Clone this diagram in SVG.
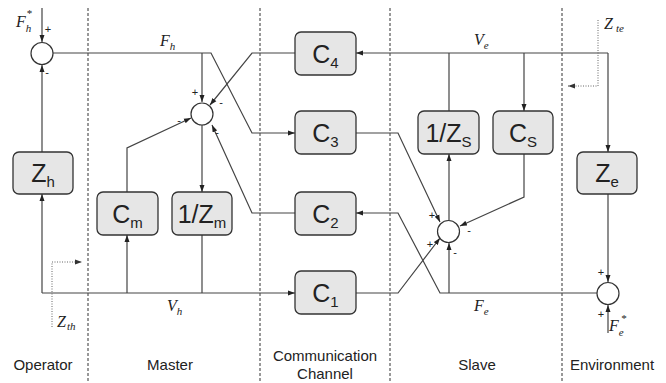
<svg xmlns="http://www.w3.org/2000/svg" width="666" height="383" viewBox="0 0 666 383">
<style>
.box{fill:#e6e6e6;stroke:#333;stroke-width:1.3}
.bt{font-family:"Liberation Sans",Arial,sans-serif;font-size:25px;fill:#222;text-anchor:middle}
.sub{font-size:15px}
.ln{fill:none;stroke:#444;stroke-width:1.2}
.dot{fill:none;stroke:#666;stroke-width:1;stroke-dasharray:1,1.5}
.sep{fill:none;stroke:#333;stroke-width:1;stroke-dasharray:3,2}
.sum{fill:#fff;stroke:#333;stroke-width:1.2}
.sg{font-family:"Liberation Sans",Arial,sans-serif;font-size:11px;fill:#222;text-anchor:middle}
.m{font-family:"Liberation Serif","Times New Roman",serif;font-style:italic;font-size:16px;fill:#222}
.ms{font-size:11px}
.lab{font-family:"Liberation Sans",Arial,sans-serif;font-size:15px;fill:#222;text-anchor:middle}
</style>
<defs>
<marker id="a" markerUnits="userSpaceOnUse" markerWidth="8" markerHeight="6" refX="7" refY="3" orient="auto"><path d="M0,0.5 L7,3 L0,5.5 z" fill="#222"/></marker>
<marker id="ad" markerUnits="userSpaceOnUse" markerWidth="8" markerHeight="6" refX="7" refY="3" orient="auto"><path d="M0,0.5 L7,3 L0,5.5 z" fill="#333"/></marker>
</defs>

<g id="separators">
<line class="sep" x1="88" y1="8" x2="88" y2="383"/>
<line class="sep" x1="260" y1="8" x2="260" y2="383"/>
<line class="sep" x1="390" y1="8" x2="390" y2="383"/>
<line class="sep" x1="562" y1="8" x2="562" y2="383"/>
</g>

<g id="connectors">
<path class="ln" d="M42,8 V42" marker-end="url(#a)"/>
<path class="ln" d="M42,152 V65" marker-end="url(#a)"/>
<path class="ln" d="M53,53 H211 L252,133 H295" marker-end="url(#a)"/>
<path class="ln" d="M202,53 V102" marker-end="url(#a)"/>
<path class="ln" d="M295,53 H252 L210,105" marker-end="url(#a)"/>
<path class="ln" d="M127,192 V148 L191,118" marker-end="url(#a)"/>
<path class="ln" d="M202,125 V192" marker-end="url(#a)"/>
<path class="ln" d="M295,213 H252 L212,125" marker-end="url(#a)"/>
<path class="ln" d="M202,235 V293"/>
<path class="ln" d="M42,293 H295" marker-end="url(#a)"/>
<path class="ln" d="M42,293 V194" marker-end="url(#a)"/>
<path class="ln" d="M127,293 V235" marker-end="url(#a)"/>
<path class="ln" d="M356,293 H398 L440,238" marker-end="url(#a)"/>
<path class="ln" d="M356,133 H398 L440,222" marker-end="url(#a)"/>
<path class="ln" d="M597,293 H440 L398,213 H356" marker-end="url(#a)"/>
<path class="ln" d="M449,293 V243" marker-end="url(#a)"/>
<path class="ln" d="M449,220 V154" marker-end="url(#a)"/>
<path class="ln" d="M449,111 V53"/>
<path class="ln" d="M608,53 H356" marker-end="url(#a)"/>
<path class="ln" d="M524,53 V111" marker-end="url(#a)"/>
<path class="ln" d="M608,53 V152" marker-end="url(#a)"/>
<path class="ln" d="M524,154 V197 L460,226" marker-end="url(#a)"/>
<path class="ln" d="M608,194 V282" marker-end="url(#a)"/>
<path class="ln" d="M608,333 V305" marker-end="url(#a)"/>
<path class="dot" d="M52,327 V262 H82" marker-end="url(#ad)"/>
<path class="dot" d="M598,20 V86 H568" marker-end="url(#ad)"/>
</g>

<g id="sum-operator">
<circle class="sum" cx="42" cy="53.5" r="11"/>
<text class="sg" x="48" y="33">+</text>
<text class="sg" x="47" y="76">-</text>
</g>
<g id="sum-master">
<circle class="sum" cx="202" cy="114" r="11"/>
<text class="sg" x="195" y="96">+</text>
<text class="sg" x="221" y="106">-</text>
<text class="sg" x="179" y="124">-</text>
<text class="sg" x="217" y="136">-</text>
</g>
<g id="sum-slave">
<circle class="sum" cx="448.5" cy="231.5" r="11"/>
<text class="sg" x="432" y="219">+</text>
<text class="sg" x="430" y="248">+</text>
<text class="sg" x="469" y="234">-</text>
<text class="sg" x="455" y="256">-</text>
</g>
<g id="sum-environment">
<circle class="sum" cx="608" cy="293.5" r="11"/>
<text class="sg" x="601" y="276">+</text>
<text class="sg" x="601" y="318">+</text>
</g>

<g id="Zh"><rect class="box" x="13" y="152" width="60" height="42" rx="6"/><text class="bt" x="43" y="182">Z<tspan class="sub" dy="5">h</tspan></text></g>
<g id="Cm"><rect class="box" x="97" y="192" width="61" height="43" rx="6"/><text class="bt" x="127.5" y="222.5">C<tspan class="sub" dy="5">m</tspan></text></g>
<g id="Zm"><rect class="box" x="172" y="192" width="60" height="43" rx="6"/><text class="bt" x="202" y="222.5">1/Z<tspan class="sub" dy="5">m</tspan></text></g>
<g id="C4"><rect class="box" x="295" y="32" width="61" height="43" rx="6"/><text class="bt" x="325.5" y="62.5">C<tspan class="sub" dy="5">4</tspan></text></g>
<g id="C3"><rect class="box" x="295" y="111" width="61" height="43" rx="6"/><text class="bt" x="325.5" y="141.5">C<tspan class="sub" dy="5">3</tspan></text></g>
<g id="C2"><rect class="box" x="295" y="192" width="61" height="43" rx="6"/><text class="bt" x="325.5" y="222.5">C<tspan class="sub" dy="5">2</tspan></text></g>
<g id="C1"><rect class="box" x="295" y="271" width="61" height="43" rx="6"/><text class="bt" x="325.5" y="301.5">C<tspan class="sub" dy="5">1</tspan></text></g>
<g id="ZS"><rect class="box" x="418" y="111" width="61" height="43" rx="6"/><text class="bt" x="448.5" y="141.5">1/Z<tspan class="sub" dy="5">S</tspan></text></g>
<g id="CS"><rect class="box" x="493" y="111" width="60" height="43" rx="6"/><text class="bt" x="523" y="141.5">C<tspan class="sub" dy="5">S</tspan></text></g>
<g id="Ze"><rect class="box" x="577" y="152" width="60" height="42" rx="6"/><text class="bt" x="607" y="182">Z<tspan class="sub" dy="5">e</tspan></text></g>

<g id="labels">
<text class="m" x="16" y="27">F<tspan class="ms" dy="5">h</tspan><tspan class="ms" dx="-5" dy="-15">*</tspan></text>
<text class="m" x="160" y="46">F<tspan class="ms" dy="4">h</tspan></text>
<text class="m" x="167" y="311">V<tspan class="ms" dy="4">h</tspan></text>
<text class="m" x="474" y="45">V<tspan class="ms" dy="4">e</tspan></text>
<text class="m" x="474" y="311">F<tspan class="ms" dy="4">e</tspan></text>
<text class="m" x="57" y="327">Z<tspan class="ms" dx="1" dy="3">th</tspan></text>
<text class="m" x="604" y="29">Z<tspan class="ms" dx="3" dy="3">te</tspan></text>
<text class="m" x="609" y="331">F<tspan class="ms" dy="5">e</tspan><tspan class="ms" dx="-3" dy="-14">*</tspan></text>
<text class="lab" x="43" y="370">Operator</text>
<text class="lab" x="170" y="370">Master</text>
<text class="lab" x="325" y="361">Communication</text>
<text class="lab" x="325" y="379">Channel</text>
<text class="lab" x="477" y="370">Slave</text>
<text class="lab" x="612" y="370">Environment</text>
</g>
</svg>
